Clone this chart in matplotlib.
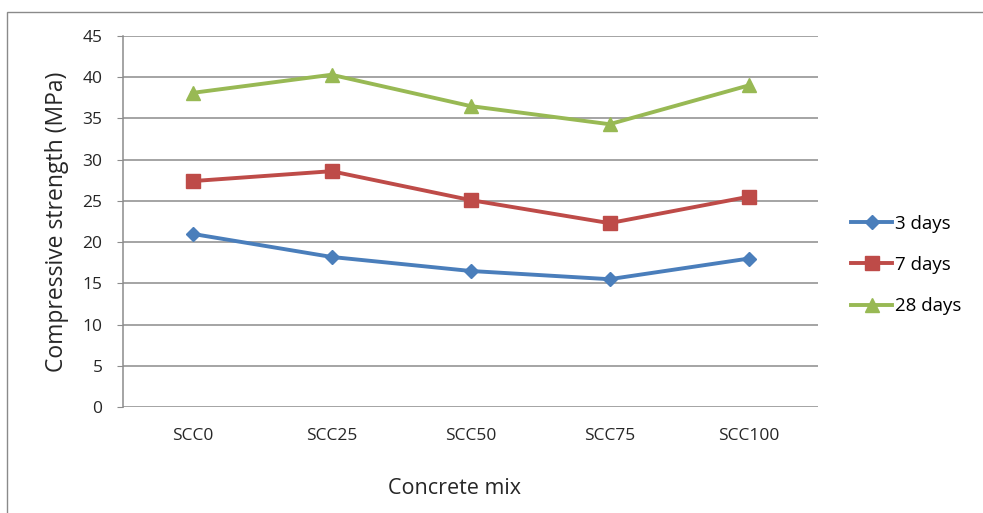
import matplotlib
matplotlib.use("Agg")
import matplotlib.pyplot as plt
from matplotlib.patches import Rectangle

mixes = ["SCC0", "SCC25", "SCC50", "SCC75", "SCC100"]
days3 = [21.0, 18.2, 16.5, 15.5, 18.0]
days7 = [27.4, 28.6, 25.1, 22.3, 25.5]
days28 = [38.1, 40.3, 36.5, 34.3, 39.0]
y_ticks = [0, 5, 10, 15, 20, 25, 30, 35, 40, 45]

plt.rcParams["font.family"] = ["Open Sans", "DejaVu Sans"]
TEXT = "#262626"

fig = plt.figure(figsize=(9.83, 5.13), dpi=100)
fig.patch.set_facecolor("white")

# chart frame
fig.patches.append(Rectangle((7 / 983, -0.1), 1.2, 1 - 12 / 513 + 0.1,
                             transform=fig.transFigure, fill=False,
                             edgecolor="#8a8a8a", linewidth=1.0))

ax = fig.add_axes([123 / 983, 1 - 407 / 513, 695 / 983, 371 / 513])
x = list(range(len(mixes)))

ax.plot(x, days3, color="#4a7ebb", linewidth=2.8, marker="D", markersize=7,
        label="3 days", zorder=3)
ax.plot(x, days7, color="#be4b48", linewidth=2.8, marker="s", markersize=10.5,
        label="7 days", zorder=3)
ax.plot(x, days28, color="#98b954", linewidth=2.8, marker="^", markersize=10.5,
        label="28 days", zorder=3)

ax.set_xlim(-0.5, len(mixes) - 0.5)
ax.set_ylim(0, 45)
ax.set_yticks(y_ticks)
ax.set_xticks(x)
ax.set_xticklabels(mixes)
ax.grid(axis="y", color="#8c8c8c", linewidth=1.1)
ax.set_axisbelow(True)

for s in ["top", "right", "bottom"]:
    ax.spines[s].set_visible(False)
ax.spines["left"].set_color("#8c8c8c")
ax.spines["left"].set_linewidth(1.1)

ax.tick_params(axis="y", length=4.3, color="#8c8c8c", labelsize=12.5,
               pad=10.5, labelcolor=TEXT)
ax.tick_params(axis="x", length=0, labelsize=12.5, pad=15, labelcolor=TEXT)

ax.set_ylabel("Compressive strength (MPa)", fontsize=16.5, color=TEXT,
              labelpad=10)
fig.text(455 / 983, 1 - 489 / 513, "Concrete mix", fontsize=15.5,
         color=TEXT, ha="center", va="center")

fig.legend(loc="center left", bbox_to_anchor=(851 / 983, 1 - 265 / 513),
           bbox_transform=fig.transFigure, frameon=False,
           handlelength=2.2, handletextpad=0.15,
           labelspacing=1.25, borderpad=0, borderaxespad=0,
           prop={"size": 13.5})

fig.savefig("out.png", dpi=100, facecolor="white")
